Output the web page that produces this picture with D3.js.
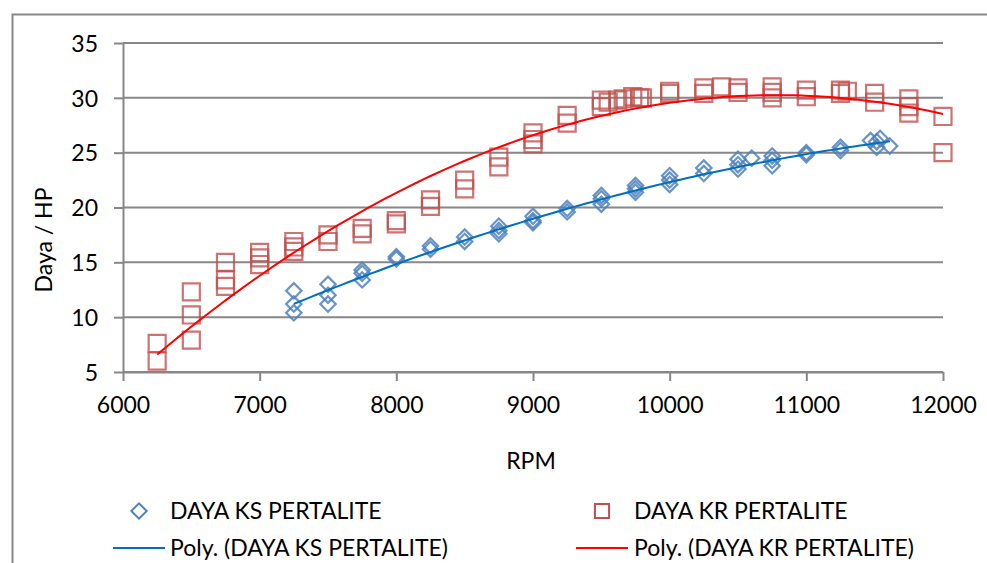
<!DOCTYPE html>
<html>
<head>
<meta charset="utf-8">
<script src="https://cdn.jsdelivr.net/npm/d3@7"></script>
<style>
  body { margin: 0; background: #fff; }
  svg { display: block; font-family: Lato, "Open Sans", sans-serif; }
</style>
</head>
<body>
<script>
// KS series (blue diamonds)
const ksRpm = [7250, 7250, 7250, 7500, 7500, 7500, 7750, 7750, 7750, 8000, 8000,
  8250, 8250, 8500, 8500, 8750, 8750, 8750, 9000, 9000, 9000, 9250, 9250,
  9500, 9500, 9500, 9750, 9750, 9750, 10000, 10000, 10000, 10250, 10250,
  10500, 10500, 10500, 10600, 10750, 10750, 10750, 11000, 11000, 11250, 11250,
  11470, 11515, 11515, 11540, 11610];
const ksHp = [12.4, 11.2, 10.4, 13.0, 12.0, 11.2, 14.3, 14.0, 13.4, 15.5, 15.3,
  16.5, 16.2, 17.3, 16.9, 18.3, 17.9, 17.6, 19.2, 18.8, 18.6, 19.9, 19.6,
  21.1, 20.8, 20.3, 22.0, 21.7, 21.4, 22.9, 22.5, 22.1, 23.6, 23.1,
  24.4, 23.9, 23.5, 24.5, 24.7, 24.3, 23.8, 25.0, 24.8, 25.5, 25.2,
  26.1, 26.0, 25.5, 26.3, 25.6];

// KR series (red squares)
const krRpm = [6250, 6250, 6500, 6500, 6500, 6750, 6750, 6750, 7000, 7000, 7000,
  7250, 7250, 7250, 7500, 7500, 7750, 7750, 8000, 8000, 8250, 8250, 8500, 8500,
  8750, 8750, 9000, 9000, 9000, 9250, 9250, 9500, 9500, 9550, 9620, 9660, 9730,
  9780, 9800, 10000, 10000, 10250, 10250, 10380, 10500, 10500, 10750, 10750, 10750,
  11000, 11000, 11250, 11250, 11300, 11500, 11500, 11750, 11750, 11750, 12000, 12000];
const krHp = [7.6, 6.0, 12.3, 10.2, 7.9, 15.0, 13.4, 12.8, 15.9, 15.4, 14.8,
  16.9, 16.4, 16.0, 17.5, 16.9, 18.1, 17.6, 18.8, 18.5, 20.7, 20.1, 22.5, 21.7,
  24.6, 23.7, 26.8, 26.2, 25.8, 28.4, 27.7, 29.8, 29.2, 29.6, 29.8, 29.9, 30.1,
  30.0, 30.0, 30.6, 30.4, 30.9, 30.4, 31.0, 30.9, 30.5, 31.0, 30.5, 30.0,
  30.7, 30.1, 30.7, 30.4, 30.6, 30.4, 29.6, 29.9, 29.2, 28.6, 28.3, 25.0];

// trendline readings (Poly. order 2)
const ksTrendRpm = [7250, 7539, 7783, 8000, 8417, 8661, 8905, 9149, 9393, 9637,
  9881, 10124, 10368, 10563, 10807, 11051, 11295, 11612];
const ksTrendHp = [11.1, 12.6, 13.9, 15.0, 16.7, 17.7, 18.6, 19.45, 20.3, 21.1,
  21.9, 22.65, 23.35, 24.0, 24.5, 24.95, 25.4, 26.05];
const krTrendRpm = [6250, 6563, 6807, 7051, 7295, 7539, 7783, 8027, 8417, 8661,
  8905, 9251, 9503, 9759, 10002, 10246, 10563, 10807, 11051, 11295, 11539, 11783, 12000];
const krTrendHp = [6.6, 9.6, 12.0, 14.3, 16.4, 18.25, 19.9, 21.4, 23.7, 25.1,
  26.4, 27.5, 28.4, 29.0, 29.5, 29.8, 30.2, 30.25, 30.15, 29.95, 29.55, 29.1, 28.6];

const xTicks = [6000, 7000, 8000, 9000, 10000, 11000, 12000];
const yTicks = [5, 10, 15, 20, 25, 30, 35];

const w = 987;
const h = 563;
const grey = "#878787";

const svg = d3.select("body").append("svg").attr("width", w).attr("height", h);

// chart border (runs off right and bottom edges)
svg.append("rect")
  .attr("x", 12.5).attr("y", 14.5)
  .attr("width", w + 20).attr("height", h + 20)
  .attr("fill", "none").attr("stroke", grey).attr("stroke-width", 2);

const xScale = d3.scaleLinear().domain([6000, 12000]).range([123, 943]);
const yScale = d3.scaleLinear().domain([5, 35]).range([372, 43]);

// horizontal gridlines
svg.append("g")
  .selectAll("line")
  .data(yTicks)
  .enter()
  .append("line")
  .attr("x1", xScale(6000))
  .attr("x2", xScale(12000))
  .attr("y1", (d) => yScale(d))
  .attr("y2", (d) => yScale(d))
  .attr("stroke", grey)
  .attr("stroke-width", 2);

const yAxis = d3.axisLeft(yScale).tickValues(yTicks).tickSize(9).tickSizeOuter(0).tickPadding(16);
const xAxis = d3.axisBottom(xScale).tickValues(xTicks).tickFormat(d3.format("d"))
  .tickSize(9).tickSizeOuter(0).tickPadding(16);

const gy = svg.append("g").attr("transform", `translate(${xScale(6000)},0)`).call(yAxis);
const gx = svg.append("g").attr("transform", `translate(0,${yScale(5)})`).call(xAxis);
[gx, gy].forEach((g) => {
  g.selectAll("path, line").attr("stroke", grey).attr("stroke-width", 2);
  g.selectAll("text").attr("fill", "#000").style("font-size", "23px").style("font-family", "Lato, sans-serif");
});
gy.selectAll("text").attr("dy", "0.36em");

// axis titles
svg.append("text")
  .attr("x", 531).attr("y", 461).attr("dy", "0.35em")
  .attr("text-anchor", "middle").style("font-size", "23px")
  .text("RPM");
svg.append("text")
  .attr("transform", "translate(44,240) rotate(-90)")
  .attr("dy", "0.35em")
  .attr("text-anchor", "middle").style("font-size", "23px")
  .text("Daya / HP");

// order 2 least squares fit, smooths the readings like the spreadsheet trendline
function polyFit(xs, ys) {
  const s = (f) => d3.sum(xs, (x, i) => f(x / 1000, ys[i]));
  const A = [
    [xs.length, s((x) => x), s((x) => x * x)],
    [s((x) => x), s((x) => x * x), s((x) => x ** 3)],
    [s((x) => x * x), s((x) => x ** 3), s((x) => x ** 4)]
  ];
  const b = [s((x, y) => y), s((x, y) => x * y), s((x, y) => x * x * y)];
  for (let i = 0; i < 3; i++) {
    for (let k = i + 1; k < 3; k++) {
      const f = A[k][i] / A[i][i];
      for (let j = i; j < 3; j++) A[k][j] -= f * A[i][j];
      b[k] -= f * b[i];
    }
  }
  const c = [0, 0, 0];
  for (let i = 2; i >= 0; i--) {
    let t = b[i];
    for (let j = i + 1; j < 3; j++) t -= A[i][j] * c[j];
    c[i] = t / A[i][i];
  }
  return (x) => c[0] + c[1] * (x / 1000) + c[2] * (x / 1000) ** 2;
}

function trend(xs, ys, color) {
  const f = polyFit(xs, ys);
  const [lo, hi] = d3.extent(xs);
  const pts = d3.range(0, 101).map((i) => lo + ((hi - lo) * i) / 100);
  svg.append("path")
    .datum(pts)
    .attr("fill", "none")
    .attr("stroke", color)
    .attr("stroke-width", 2)
    .attr("d", d3.line().x((d) => xScale(d)).y((d) => yScale(f(d))));
}

const diamond = d3.symbol().type(d3.symbolSquare).size(118)();
const square = d3.symbol().type(d3.symbolSquare).size(290)();

// KR squares
svg.append("g")
  .selectAll("path")
  .data(krRpm)
  .enter()
  .append("path")
  .attr("d", square)
  .attr("transform", (d, i) => `translate(${xScale(d)},${yScale(krHp[i])})`)
  .attr("fill", "none")
  .attr("stroke", "#C0504D")
  .attr("stroke-opacity", 0.8)
  .attr("stroke-width", 2.2);

// KS diamonds
svg.append("g")
  .selectAll("path")
  .data(ksRpm)
  .enter()
  .append("path")
  .attr("d", diamond)
  .attr("transform", (d, i) => `translate(${xScale(d)},${yScale(ksHp[i])}) rotate(45)`)
  .attr("fill", "none")
  .attr("stroke", "#4F81BD")
  .attr("stroke-opacity", 0.85)
  .attr("stroke-width", 2.2);

trend(ksTrendRpm, ksTrendHp, "#0070C0");
trend(krTrendRpm, krTrendHp, "#FF0000");

// legend
const legend = svg.append("g").style("font-size", "23px");
legend.append("path").attr("d", diamond)
  .attr("transform", "translate(139,511) rotate(45)")
  .attr("fill", "none").attr("stroke", "#4F81BD").attr("stroke-width", 2);
legend.append("text").attr("x", 170).attr("y", 511).attr("dy", "0.35em").text("DAYA KS PERTALITE");
legend.append("path").attr("d", d3.symbol().type(d3.symbolSquare).size(200)())
  .attr("transform", "translate(602,511)")
  .attr("fill", "none").attr("stroke", "#C0504D").attr("stroke-width", 2);
legend.append("text").attr("x", 634).attr("y", 511).attr("dy", "0.35em").text("DAYA KR PERTALITE");
legend.append("line").attr("x1", 113).attr("x2", 165).attr("y1", 548).attr("y2", 548)
  .attr("stroke", "#0070C0").attr("stroke-width", 2);
legend.append("text").attr("x", 170).attr("y", 548).attr("dy", "0.35em").text("Poly. (DAYA KS PERTALITE)");
legend.append("line").attr("x1", 576).attr("x2", 628).attr("y1", 548).attr("y2", 548)
  .attr("stroke", "#FF0000").attr("stroke-width", 2);
legend.append("text").attr("x", 634).attr("y", 548).attr("dy", "0.35em").text("Poly. (DAYA KR PERTALITE)");
</script>
</body>
</html>
